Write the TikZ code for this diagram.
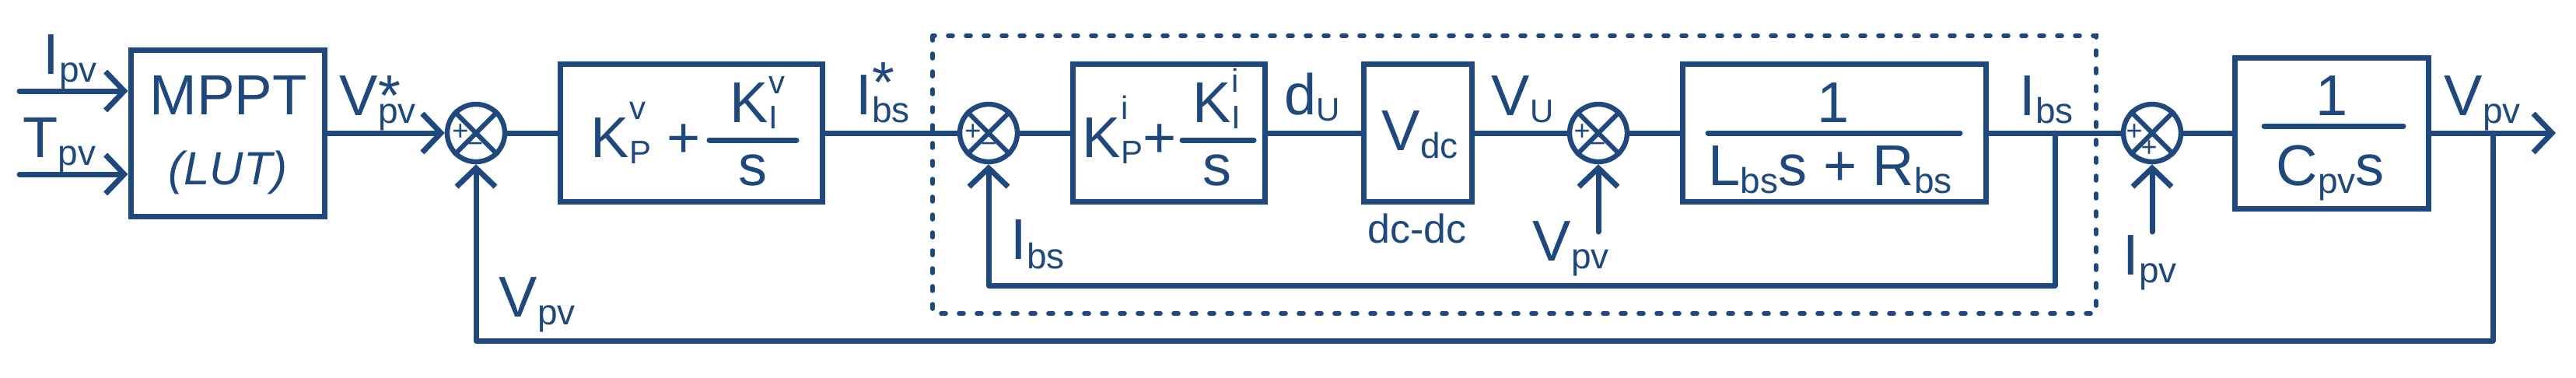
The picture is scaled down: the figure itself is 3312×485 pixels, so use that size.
\documentclass[tikz,border=0pt]{standalone}
\usepackage{fontspec}
\setmainfont{Liberation Sans}
\usetikzlibrary{arrows.meta}
\definecolor{bl}{RGB}{31,73,125}
\newcommand\msz{\fontsize{18.5}{20}\selectfont}
\newcommand\ssz{\fontsize{11.5}{12}\selectfont}
\newcommand\csz{\fontsize{10.5}{11}\selectfont}
\newcommand\lsb[1]{\raisebox{-2.5pt}{\ssz #1}}
\newcommand\csb[1]{\raisebox{-2pt}{\csz #1}}
\newcommand\supr[2]{\rlap{\raisebox{#1}{\csz #2}}}
\begin{document}
\begin{tikzpicture}[x=0.25pt,y=-0.25pt,
  ln/.style={draw=bl, line width=1.75pt, line cap=round, line join=round},
  arr/.style={ln, -{Straight Barb[length=6pt,width=12.5pt]}},
  blk/.style={draw=bl, line width=1.75pt, rectangle, inner sep=0pt},
  sumj/.style={draw=bl, line width=1.6pt, circle, minimum size=18.5pt, inner sep=0pt},
  xln/.style={draw=bl, line width=1.5pt},
  lbl/.style={text=bl, font=\msz, inner sep=0pt, anchor=base west},
  clbl/.style={text=bl, font=\msz, inner sep=0pt, anchor=base},
  sgn/.style={text=bl, font=\fontsize{9}{9}\selectfont, inner sep=0pt},
  bar/.style={draw=bl, line width=1.75pt, line cap=round},
  dbox/.style={draw=bl, line width=1.4pt, line cap=round, dash pattern=on 1.5pt off 4.25pt}
]
\fill[white] (0,0) rectangle (3312,485);
\useasboundingbox (0,0) rectangle (3312,485);

% blocks
\node[blk, minimum width=62.25pt, minimum height=53.5pt] (mppt) at (292.5,171) {};
\node[blk, minimum width=84.25pt, minimum height=44.1pt] (kv) at (889,171) {};
\node[blk, minimum width=61.8pt, minimum height=44.1pt] (ki) at (1503,171) {};
\node[blk, minimum width=34.9pt, minimum height=44.1pt] (vdc) at (1823,171) {};
\node[blk, minimum width=97.5pt, minimum height=44.1pt] (lbs) at (2358,171) {};
\node[blk, minimum width=62.2pt, minimum height=48.5pt] (cpv) at (2998,171) {};

% summing junctions
\foreach \n/\x in {s1/612, s2/1271, s3/2055, s4/2767}{
  \node[sumj] (\n) at (\x,171) {};
  \draw[xln] (\n.north west) -- (\n.south east) (\n.north east) -- (\n.south west);
}
\node[sgn] (p1) at (592,170) {+};
\node[sgn] (m1) at (611,190) {\char"2212};
\node[sgn] (p2) at (1251,170) {+};
\node[sgn] (m2) at (1271,190) {\char"2212};
\node[sgn] (p3) at (2034,170) {+};
\node[sgn] (m3) at (2054,190) {\char"2212};
\node[sgn] (p4) at (2744,170) {+};
\node[sgn] (q4) at (2763,191) {+};

% dashed inner-loop box
\draw[dbox] (1199,46) rectangle (2695,403);

% coordinates
\coordinate (inI) at (25,117);
\coordinate (inT) at (25,224);
\coordinate (out) at (3286,171);
\coordinate (b1) at (2642,171);
\coordinate (fb2) at (2642,367);
\coordinate (b2) at (3205,171);
\coordinate (fb1) at (3205,438);
\coordinate (vin) at (2055,298);
\coordinate (iin) at (2767,298);

% connectors
\draw[arr] (inI) -- (mppt.west |- inI);
\draw[arr] (inT) -- (mppt.west |- inT);
\draw[arr] (mppt.east) -- (s1.west);
\draw[ln] (s1.east) -- (kv.west);
\draw[ln] (kv.east) -- (s2.west);
\draw[ln] (s2.east) -- (ki.west);
\draw[ln] (ki.east) -- (vdc.west);
\draw[ln] (vdc.east) -- (s3.west);
\draw[ln] (s3.east) -- (lbs.west);
\draw[ln] (lbs.east) -- (s4.west);
\draw[ln] (s4.east) -- (cpv.west);
\draw[arr] (cpv.east) -- (out);
\draw[arr] (b1) -- (fb2) -| (s2.south);
\draw[arr] (b2) -- (fb1) -| (s1.south);
\draw[arr] (vin) -- (s3.south);
\draw[arr] (iin) -- (s4.south);

% labels
\node[lbl] (lIpv) at (55,95) {I\lsb{pv}};
\node[lbl] (lTpv) at (29,202) {T\lsb{pv}};
\node[clbl, font=\fontsize{18.2}{20}\selectfont] (tmppt) at (293.5,147) {MPPT};
\node[clbl, font=\fontsize{15}{16}\selectfont\itshape] (tlut) at (293,237) {(LUT)};
\node[lbl] (lVref) at (436,148) {V\rlap{*}\lsb{pv}};
\node[lbl] (kv1) at (759,202) {K\supr{12.25pt}{v}\csb{P} +};
\node[lbl] (kv2) at (938,157) {K\supr{9.25pt}{v}\csb{I}};
\draw[bar] (912,180) -- (1024,180);
\node[clbl] (kv3) at (968,238) {s};
\node[lbl] (lIref) at (1100,147) {I\rlap{\raisebox{4pt}{*}}\lsb{bs}};
\node[lbl] (ki1) at (1391,202) {K\supr{12.25pt}{i}\csb{P}+};
\node[lbl] (ki2) at (1533,157) {K\supr{9.75pt}{i}\csb{I}};
\draw[bar] (1520,180) -- (1612,180);
\node[clbl] (ki3) at (1565,238) {s};
\node[lbl] (ldu) at (1651,147) {d\csb{U}};
\node[lbl] (tvdc) at (1776,193) {V\lsb{dc}};
\node[clbl, font=\fontsize{13}{14}\selectfont] (tdcdc) at (1822,312) {dc-dc};
\node[lbl] (lIbs2) at (1299,333) {I\raisebox{-3pt}{\ssz bs}};
\node[lbl] (lVU) at (1917,148) {V\raisebox{-2.25pt}{\csz U}};
\node[lbl] (lVpv2) at (1970,335) {V\lsb{pv}};
\node[clbl] (l1) at (2357,157) {1};
\draw[bar] (2196,171) -- (2520,171);
\node[lbl] (l2) at (2196,238) {L\lsb{bs}s + R\lsb{bs}};
\node[lbl] (lIbs) at (2596,148) {I\lsb{bs}};
\node[lbl] (lIpv2) at (2729,353) {I\lsb{pv}};
\node[clbl] (c1) at (2998,148) {1};
\draw[bar] (2911,162) -- (3090,162);
\node[lbl] (c2) at (2926,238) {C\lsb{pv}s};
\node[lbl] (lVout) at (3142,148) {V\lsb{pv}};
\node[lbl] (lVfb) at (641,407) {V\lsb{pv}};
\end{tikzpicture}
\end{document}
